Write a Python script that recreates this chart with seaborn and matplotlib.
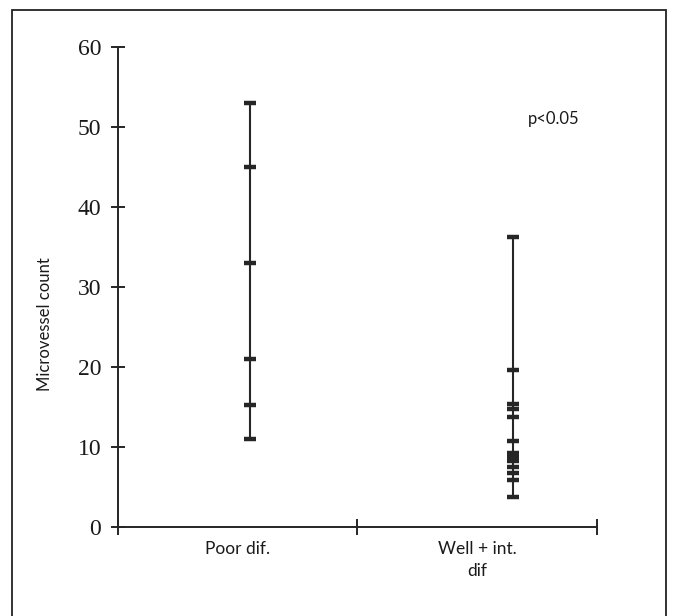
import matplotlib
matplotlib.use("Agg")
import matplotlib.pyplot as plt
import seaborn as sns
import pandas as pd
from matplotlib.patches import Rectangle

# ---- data ----
categories = ["Poor dif.", "Well + int.\ndif"]
poor_values = [53, 45, 33, 21, 15.3, 11]
well_values = [36.3, 19.6, 15.4, 14.8, 13.7, 10.7, 9.3, 8.7, 8.2, 7.5, 6.7, 5.9, 3.8]
y_ticks = [0, 10, 20, 30, 40, 50, 60]
annotation = "p<0.05"

# ---- layout (x positions of each group's line on a 0..2 axis) ----
group_pos = {categories[0]: 0.55, categories[1]: 1.65}
label_pos = [0.5, 1.5]

df = pd.DataFrame({
    "group": [categories[0]] * len(poor_values) + [categories[1]] * len(well_values),
    "value": poor_values + well_values,
})
df["x"] = df["group"].map(group_pos)

sns.set_theme(style="white")
plt.rcParams["font.family"] = ["Lato", "DejaVu Sans"]

fig = plt.figure(figsize=(6.75, 6.16), dpi=100)
ax = fig.add_axes([0.1748, 0.1445, 0.8844 - 0.1748, 0.9237 - 0.1445])

ink = "#262626"
# range lines per group
rng = df.groupby("group")["value"].agg(["min", "max"])
for g, row in rng.iterrows():
    ax.vlines(group_pos[g], row["min"], row["max"], color=ink, lw=1.5, zorder=2)

sns.scatterplot(data=df, x="x", y="value", marker="_", s=64, linewidth=3.2,
                color=ink, ax=ax, zorder=3, legend=False)

ax.set_xlim(0, 2)
ax.set_ylim(0, 60)
sns.despine(ax=ax)
for s in ["left", "bottom"]:
    ax.spines[s].set_color(ink)
    ax.spines[s].set_linewidth(1.4)

ax.set_yticks(y_ticks)
ax.set_yticklabels([str(t) for t in y_ticks], family="Liberation Serif", fontsize=17,
                   color="#1a1a1a")
ax.tick_params(axis="y", direction="inout", length=10, width=1.4, color=ink, pad=7, left=True)

ax.set_xticks([0, 1, 2])
ax.set_xticklabels(["", "", ""])
ax.tick_params(axis="x", which="major", direction="inout", length=12, width=1.4, color=ink, bottom=True)
ax.set_xticks(label_pos, minor=True)
ax.set_xticklabels(categories, minor=True, fontsize=12.5, color="#1a1a1a", linespacing=1.45)
ax.tick_params(axis="x", which="minor", length=0, pad=10)

ax.set_xlabel("")
ax.set_ylabel("Microvessel count", fontsize=12, color="#1a1a1a")
ax.yaxis.set_label_coords(-0.135, 0.423)

ax.text(1.82, 51, annotation, fontsize=12, ha="center", va="center", color="#1a1a1a")

# outer frame of the scanned figure (open at bottom)
fig.patches.append(Rectangle((0.0185, -0.05), 0.9867 - 0.0185, 0.984 + 0.05,
                             transform=fig.transFigure, fill=False,
                             edgecolor="#222222", lw=1.3, clip_on=False))

fig.savefig("out.png", dpi=100)
